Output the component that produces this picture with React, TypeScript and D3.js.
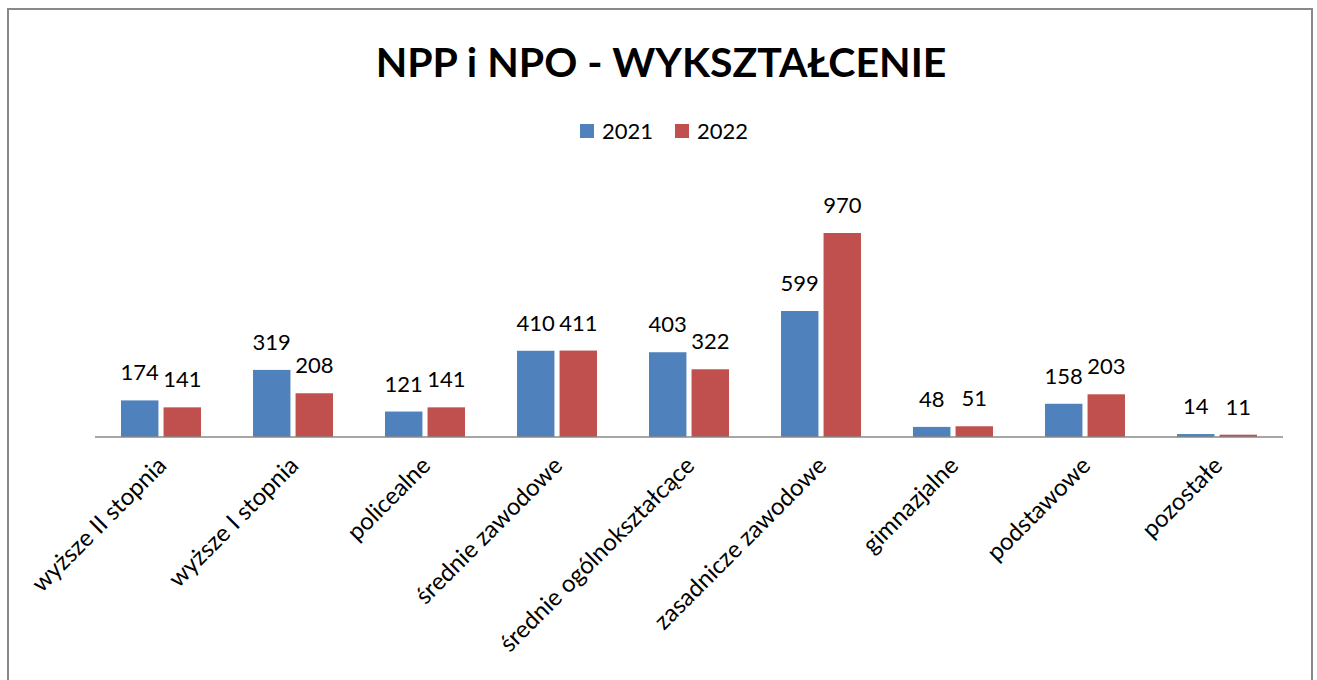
import React from "react";
import * as d3 from "d3";

const categories = [
  "wyższe II stopnia",
  "wyższe I stopnia",
  "policealne",
  "średnie zawodowe",
  "średnie ogólnokształcące",
  "zasadnicze zawodowe",
  "gimnazjalne",
  "podstawowe",
  "pozostałe",
];
const series2021 = [174, 319, 121, 410, 403, 599, 48, 158, 14];
const series2022 = [141, 208, 141, 411, 322, 970, 51, 203, 11];
const seriesNames = ["2021", "2022"];
const colors = ["#4F81BD", "#C0504D"];
const title = "NPP i NPO - WYKSZTAŁCENIE";

const W = 1317;
const H = 680;
const FONT = "Lato, 'Open Sans', sans-serif";

export default function App() {
  const left = 95, right = 1283, baseY = 437, topY = 233;
  const x = d3.scaleBand<string>().domain(categories).range([left, right]).padding(0);
  const inner = d3.scaleBand<string>().domain(seriesNames).range([0, 80]).paddingInner(0.12);
  const y = d3.scaleLinear().domain([0, 970]).range([baseY, topY]);
  const data = [series2021, series2022];

  return (
    <svg width={W} height={H} style={{ display: "block", position: "absolute", left: 0, top: 0 }} fontFamily={FONT}>
      <rect x={0} y={0} width={W} height={H} fill="#fff" />
      <rect x={8} y={9} width={1304} height={700} fill="#fff" stroke="#898989" strokeWidth={2} />
      <text x={661} y={77} textAnchor="middle" fontSize={41} fontWeight="bold" fill="#000">
        {title}
      </text>
      {seriesNames.map((s, i) => {
        const lx = [580, 675][i];
        return (
          <g key={s}>
            <rect x={lx} y={124} width={14} height={14} fill={colors[i]} />
            <text x={lx + 22} y={139} fontSize={22} fill="#000">{s}</text>
          </g>
        );
      })}
      {categories.map((c) => {
        const cx = (x(c) as number) + x.bandwidth() / 2;
        return (
          <g key={c}>
            {seriesNames.map((s, si) => {
              const v = data[si][categories.indexOf(c)];
              const bx = cx - 40 + (inner(s) as number);
              return (
                <g key={s}>
                  <rect x={bx} y={y(v)} width={inner.bandwidth()} height={baseY - y(v)} fill={colors[si]} />
                  <text x={bx + inner.bandwidth() / 2} y={y(v) - 20} textAnchor="middle" fontSize={22} fill="#000">
                    {v}
                  </text>
                </g>
              );
            })}
            <text
              transform={`translate(${cx + 7},${baseY + 30}) rotate(-45)`}
              textAnchor="end"
              fontSize={24}
              fill="#000"
            >
              {c}
            </text>
          </g>
        );
      })}
      <line x1={left} x2={right} y1={baseY} y2={baseY} stroke="#888" strokeWidth={1.5} />
    </svg>
  );
}
